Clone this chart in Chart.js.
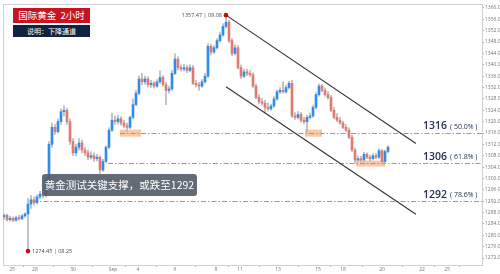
<!DOCTYPE html>
<html><head><meta charset="utf-8">
<script src="https://cdn.jsdelivr.net/npm/chart.js@4.4.0/dist/chart.umd.min.js"></script>
<style>
html,body{margin:0;padding:0;background:#fff;}
#wrap{position:relative;width:500px;height:274px;overflow:hidden;}
#c{position:absolute;left:0;top:0;}
.t1{position:absolute;left:13px;top:8px;width:77px;height:15px;background:#c8141e;color:#fff;font:9.5px "Noto Sans CJK SC",sans-serif;line-height:15px;text-align:center;white-space:pre;}
.t2{position:absolute;left:13px;top:25px;width:77px;height:12px;background:#0f2340;color:#fff;font:7px "Noto Sans CJK SC",sans-serif;line-height:12px;text-align:center;}
.note{position:absolute;left:42px;top:174px;width:155px;height:22px;background:rgba(86,96,108,0.93);border-radius:3px;color:#fff;font:10.5px "Noto Sans CJK SC",sans-serif;line-height:22px;text-align:center;white-space:nowrap;}
</style></head>
<body>
<div id="wrap">
<canvas id="c" width="500" height="274"></canvas>
<div class="t1">国际黄金  2小时</div>
<div class="t2">说明：下降通道</div>
<div class="note">黄金测试关键支撑，或跌至1292</div>
</div>
<script>
const openP=[1286.5,1287.0,1285.5,1286.0,1285.3,1286.2,1285.8,1286.8,1287.5,1291.0,1292.5,1291.5,1293.5,1294.5,1294.0,1300.0,1312.0,1318.0,1316.5,1320.0,1323.5,1324.0,1320.0,1313.0,1309.0,1311.0,1312.5,1310.0,1309.0,1307.5,1308.0,1307.0,1307.5,1303.0,1306.0,1311.0,1317.0,1320.5,1320.0,1321.0,1319.5,1318.5,1318.0,1321.5,1326.0,1330.0,1335.0,1334.0,1335.0,1333.0,1333.5,1332.5,1334.0,1335.5,1333.0,1331.0,1331.5,1337.0,1342.0,1339.0,1338.5,1339.0,1338.0,1339.0,1333.5,1333.0,1332.5,1334.0,1336.0,1346.5,1344.5,1346.0,1348.5,1350.5,1353.5,1355.0,1348.5,1344.0,1346.0,1339.0,1336.0,1337.5,1337.0,1336.5,1332.5,1328.5,1327.0,1326.5,1325.0,1324.5,1325.5,1328.0,1330.5,1331.0,1330.5,1332.0,1333.5,1322.0,1321.5,1322.5,1320.5,1320.0,1321.5,1322.0,1325.0,1329.5,1332.5,1331.0,1329.5,1328.5,1324.0,1321.5,1320.5,1319.5,1318.0,1317.0,1314.5,1310.0,1306.5,1307.0,1306.5,1308.5,1307.5,1307.0,1308.0,1307.5,1309.8,1306.0,1309.5];
const highP=[1287.6,1287.5,1286.8,1286.5,1286.8,1287.0,1287.3,1288.0,1293.0,1294.0,1293.5,1294.2,1295.5,1296.0,1301.0,1313.0,1319.5,1319.0,1321.0,1324.5,1325.6,1324.8,1321.0,1314.0,1312.0,1314.0,1313.5,1311.0,1310.0,1309.5,1309.0,1308.5,1308.0,1306.8,1311.5,1317.8,1323.0,1322.0,1322.2,1321.8,1320.5,1319.5,1322.0,1328.0,1331.0,1336.0,1337.0,1336.0,1335.8,1334.5,1334.2,1334.8,1338.0,1336.2,1333.8,1332.5,1338.0,1343.9,1342.8,1340.0,1340.2,1339.8,1340.0,1339.8,1334.5,1333.8,1334.8,1337.0,1347.5,1347.2,1346.8,1349.2,1351.5,1354.5,1357.47,1355.8,1349.2,1347.0,1346.8,1340.0,1338.5,1338.5,1338.0,1337.2,1333.2,1329.5,1328.2,1327.5,1326.5,1326.2,1328.8,1331.2,1332.0,1334.0,1332.8,1334.2,1334.5,1323.2,1323.5,1323.2,1321.5,1322.2,1323.0,1325.8,1330.2,1333.3,1333.0,1331.8,1330.5,1329.2,1325.0,1322.8,1321.5,1320.2,1319.0,1317.8,1315.2,1310.8,1308.0,1307.8,1309.2,1309.0,1308.2,1308.8,1308.8,1310.5,1310.2,1310.0,1311.5];
const lowP=[1285.6,1285.0,1285.0,1284.8,1285.0,1285.3,1285.5,1286.3,1274.45,1289.5,1290.5,1291.0,1292.8,1293.2,1293.5,1299.0,1311.0,1315.5,1316.0,1319.0,1322.0,1319.0,1312.0,1308.0,1308.0,1310.0,1309.0,1308.0,1306.5,1306.8,1306.0,1306.2,1301.8,1302.5,1305.5,1310.5,1316.5,1319.0,1319.2,1318.8,1317.8,1316.5,1317.5,1321.0,1325.5,1329.5,1333.0,1333.2,1332.2,1332.0,1331.8,1332.0,1333.5,1332.5,1326.0,1330.0,1331.0,1336.5,1338.2,1337.8,1337.8,1337.2,1337.5,1333.0,1332.2,1331.0,1332.0,1333.5,1335.5,1343.5,1344.0,1345.5,1348.0,1350.0,1353.0,1347.8,1343.2,1343.5,1338.5,1335.2,1335.5,1336.2,1335.8,1332.0,1328.0,1326.2,1325.8,1323.0,1323.8,1324.0,1325.0,1327.5,1329.8,1330.0,1330.0,1331.5,1321.5,1320.8,1321.0,1319.8,1319.2,1316.0,1321.0,1321.5,1324.5,1329.0,1330.5,1329.0,1328.0,1323.5,1321.0,1320.0,1319.0,1317.5,1316.5,1314.0,1309.5,1305.6,1306.0,1305.8,1306.0,1307.0,1306.2,1306.5,1307.0,1307.0,1305.0,1305.5,1309.0];
const closeP=[1287.0,1285.5,1286.0,1285.3,1286.2,1285.8,1286.8,1287.5,1291.0,1292.5,1291.5,1293.5,1294.5,1294.0,1300.0,1312.0,1318.0,1316.5,1320.0,1323.5,1324.0,1320.0,1313.0,1309.0,1311.0,1312.5,1310.0,1309.0,1307.5,1308.0,1307.0,1307.5,1303.0,1306.0,1311.0,1317.0,1320.5,1320.0,1321.0,1319.5,1318.5,1318.0,1321.5,1326.0,1330.0,1335.0,1334.0,1335.0,1333.0,1333.5,1332.5,1334.0,1335.5,1333.0,1331.0,1331.5,1337.0,1342.0,1339.0,1338.5,1339.0,1338.0,1339.0,1333.5,1333.0,1332.5,1334.0,1336.0,1346.5,1344.5,1346.0,1348.5,1350.5,1353.5,1355.0,1348.5,1344.0,1346.0,1339.0,1336.0,1337.5,1337.0,1336.5,1332.5,1328.5,1327.0,1326.5,1325.0,1324.5,1325.5,1328.0,1330.5,1331.0,1330.5,1332.0,1333.5,1322.0,1321.5,1322.5,1320.5,1320.0,1321.5,1322.0,1325.0,1329.5,1332.5,1331.0,1329.5,1328.5,1324.0,1321.5,1320.5,1319.5,1318.0,1317.0,1314.5,1310.0,1306.5,1307.0,1306.5,1308.5,1307.5,1307.0,1308.0,1307.5,1309.8,1306.0,1309.5,1311.0];

const xTickPos=[2.67,10.33,23,36.33,44.67,57,70.67,78.67,91.33,104.67,113,126,139.33,147.67];
const xTickLabels=['25','28','30','Sep','4','6','8','11','13','15','18','20','22','25'];
const yTicks=[1272,1276,1280,1284,1288,1292,1296,1300,1304,1308,1312,1316,1320,1324,1328,1332,1336,1340,1344,1348,1352,1356,1360];

const channelUpper=[{x:74,y:1357.47},{x:137.3,y:1312.3}];
const channelLower=[{x:74,y:1332.3},{x:137.3,y:1287.4}];

const levelValues=[1316,1305.4,1292];
const levelStart=[38.67,34.67,9.67];
const levelNames=['1316','1306','1292'];
const levelPct=['( 50.0% )','( 61.8% )','( 78.6% )'];
const zones=[[38.67,45.67,1317.2,1314.7],[100.33,106,1317.2,1314.7],[117.33,127,1306.3,1304.2]];
const markPoints=[{x:74,y:1357.47,label:'1357.47 | 09.08',side:'left'},{x:8,y:1274.45,label:'1274.45 | 08.25',side:'right'}];

const idx=openP.map((_,i)=>i);
const wickData=idx.map(i=>({x:i,y:[lowP[i],highP[i]]}));
const bodyData=idx.map(i=>({x:i,y:[openP[i],closeP[i]]}));
const bodyColors=idx.map(i=>closeP[i]>=openP[i]?'#2f8cea':'#e07a70');

const annot={
 id:'annot',
 beforeDatasetsDraw(c){
  const {ctx,chartArea:a}=c; const x=c.scales.x,y=c.scales.y;
  ctx.save();
  ctx.strokeStyle='#d0d0d0';ctx.lineWidth=1;
  ctx.strokeRect(a.left+0.5,a.top+0.5,a.right-a.left,a.bottom-a.top);
  zones.forEach(z=>{
   const x0=x.getPixelForValue(z[0]),x1=x.getPixelForValue(z[1]);
   const y0=y.getPixelForValue(z[2]),y1=y.getPixelForValue(z[3]);
   ctx.fillStyle='rgba(247,186,142,0.8)';ctx.fillRect(x0,y0,x1-x0,y1-y0);
  });
  ctx.strokeStyle='#9a9a9a';ctx.lineWidth=1;ctx.setLineDash([5,2,1.5,2]);
  levelValues.forEach((lv,i)=>{
   const yy=Math.round(y.getPixelForValue(lv))+0.5;
   ctx.beginPath();ctx.moveTo(x.getPixelForValue(levelStart[i]),yy);ctx.lineTo(a.right,yy);ctx.stroke();
  });
  ctx.restore();
 },
 afterDatasetsDraw(c){
  const {ctx}=c; const x=c.scales.x,y=c.scales.y;
  ctx.save();
  levelValues.forEach((lv,i)=>{
   const yy=y.getPixelForValue(lv)-6.5;
   const xx=x.getPixelForValue(139.67);
   ctx.fillStyle='#22324f';ctx.textBaseline='middle';ctx.textAlign='left';
   ctx.font='600 10.5px "Open Sans", sans-serif';
   ctx.fillText(levelNames[i],xx,yy);
   const w=ctx.measureText(levelNames[i]).width;
   ctx.font='7px "Open Sans", sans-serif';
   ctx.fillText(levelPct[i],xx+w+3,yy+0.5);
  });
  markPoints.forEach(p=>{
   const px=x.getPixelForValue(p.x),py=y.getPixelForValue(p.y);
   ctx.fillStyle='#c80a0a';ctx.beginPath();ctx.arc(px,py,2.3,0,Math.PI*2);ctx.fill();
   ctx.fillStyle='#4a4a4a';ctx.font='5.5px "Open Sans", sans-serif';ctx.textBaseline='middle';
   if(p.side==='left'){ctx.textAlign='right';ctx.fillText(p.label,px-4,py);}
   else{ctx.textAlign='left';ctx.fillText(p.label,px+4,py);}
  });
  ctx.restore();
 }
};

new Chart(document.getElementById('c'),{
 type:'bar',
 data:{datasets:[
  {type:'line',data:channelUpper,borderColor:'#333',borderWidth:1.1,pointRadius:0,order:0},
  {type:'line',data:channelLower,borderColor:'#333',borderWidth:1.1,pointRadius:0,order:0},
  {data:bodyData,backgroundColor:bodyColors,barThickness:2,grouped:false,minBarLength:1,order:1},
  {data:wickData,backgroundColor:'#b8b8b8',barThickness:1,grouped:false,order:2}
 ]},
 options:{
  responsive:false,animation:false,
  layout:{padding:{left:3,top:3,right:0,bottom:0}},
  plugins:{legend:{display:false},tooltip:{enabled:false}},
  scales:{
   x:{type:'linear',min:-0.33,max:159.33,offset:false,
    grid:{display:true,drawOnChartArea:false,drawTicks:true,tickLength:2,color:'#aaa'},
    border:{color:'#999'},
    afterBuildTicks:ax=>{ax.ticks=xTickPos.map(v=>({value:v}));},
    afterFit:ax=>{ax.height=9;},
    ticks:{autoSkip:false,maxRotation:0,padding:0,color:'#777',font:{size:5,family:'"Open Sans"'},
     callback:v=>{const k=xTickPos.indexOf(v);return k>=0?xTickLabels[k]:'';}}
   },
   y:{position:'right',min:1269.55,max:1361.4,
    grid:{display:true,drawOnChartArea:false,drawTicks:true,tickLength:2,color:'#aaa'},
    border:{color:'#999'},
    afterBuildTicks:ax=>{ax.ticks=yTicks.map(v=>({value:v}));},
    afterFit:ax=>{ax.width=18;},
    ticks:{padding:1,color:'#777',font:{size:5,family:'"Open Sans"'},callback:v=>Number(v).toFixed(2)}
   }
  }
 },
 plugins:[annot]
});
</script>
</body></html>
